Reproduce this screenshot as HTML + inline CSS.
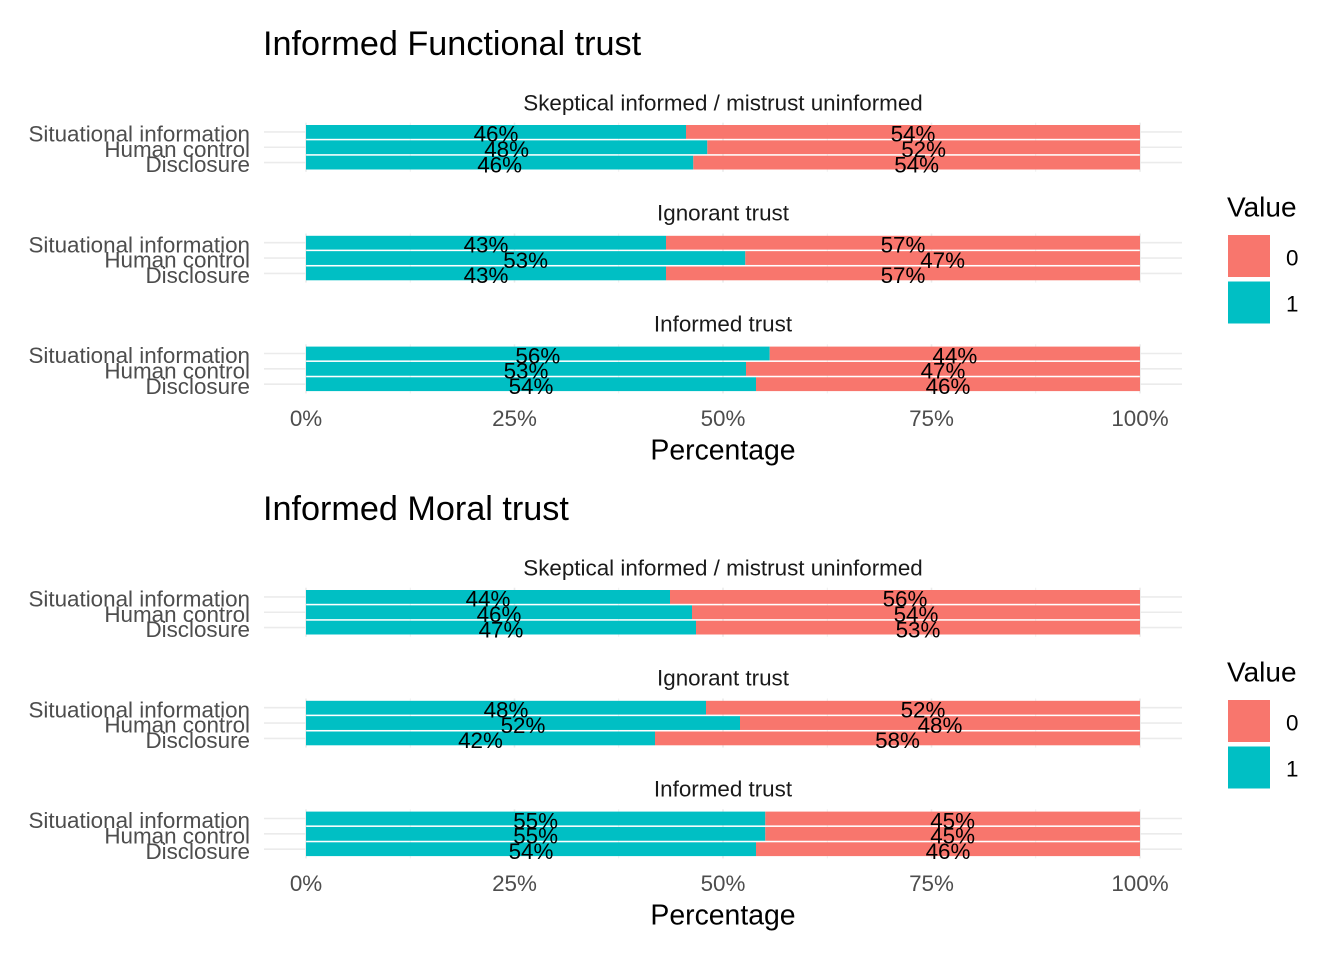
<!DOCTYPE html>
<html><head><meta charset="utf-8"><style>
html,body{margin:0;padding:0;background:#fff;}
svg{display:block;font-family:"Liberation Sans",Arial,sans-serif;}
.gmaj{stroke:#EBEBEB;stroke-width:1.6;}
.gmin{stroke:#EBEBEB;stroke-width:0.8;}
.t1{fill:#00BFC4;} .t0{fill:#F8766D;}
.ylab{font-size:22.4px;fill:#4D4D4D;text-anchor:end;}
.xlab{font-size:22.4px;fill:#4D4D4D;text-anchor:middle;}
.lab{font-size:22.4px;fill:#000;text-anchor:middle;}
.strip{font-size:22.4px;fill:#1A1A1A;text-anchor:middle;}
.title{font-size:34.2px;fill:#000;}
.atitle{font-size:28.4px;fill:#000;text-anchor:middle;}
.ltitle{font-size:28px;fill:#000;}
.ltext{font-size:22.4px;fill:#000;}
</style></head><body>
<svg width="1344" height="960" viewBox="0 0 1344 960" xmlns="http://www.w3.org/2000/svg">
<defs>
<g id="panelgrid">
  <line class="gmin" x1="410.25" y1="0" x2="410.25" y2="49.1"/>
  <line class="gmin" x1="618.75" y1="0" x2="618.75" y2="49.1"/>
  <line class="gmin" x1="827.25" y1="0" x2="827.25" y2="49.1"/>
  <line class="gmin" x1="1035.75" y1="0" x2="1035.75" y2="49.1"/>
  <line class="gmaj" x1="306" y1="0" x2="306" y2="49.1"/>
  <line class="gmaj" x1="514.5" y1="0" x2="514.5" y2="49.1"/>
  <line class="gmaj" x1="723" y1="0" x2="723" y2="49.1"/>
  <line class="gmaj" x1="931.5" y1="0" x2="931.5" y2="49.1"/>
  <line class="gmaj" x1="1140" y1="0" x2="1140" y2="49.1"/>
  <line class="gmaj" x1="264" y1="9.2" x2="1182" y2="9.2"/>
  <line class="gmaj" x1="264" y1="24.55" x2="1182" y2="24.55"/>
  <line class="gmaj" x1="264" y1="39.9" x2="1182" y2="39.9"/>
  <text class="ylab" x="250" y="18.8">Situational information</text>
  <text class="ylab" x="250" y="34.15">Human control</text>
  <text class="ylab" x="250" y="49.5">Disclosure</text>
</g>
<g id="legend">
  <text class="ltitle" x="1227" y="216.7">Value</text>
  <rect class="t0" x="1228" y="235" width="42" height="42"/>
  <rect class="t1" x="1228" y="281.5" width="42" height="42"/>
  <text class="ltext" x="1286" y="265.5">0</text>
  <text class="ltext" x="1286" y="311.5">1</text>
</g>
<g id="axis">
  <text class="xlab" x="306" y="426">0%</text>
  <text class="xlab" x="514.5" y="426">25%</text>
  <text class="xlab" x="723" y="426">50%</text>
  <text class="xlab" x="931.5" y="426">75%</text>
  <text class="xlab" x="1140" y="426">100%</text>
  <text class="atitle" x="723" y="459.3">Percentage</text>
</g>
</defs>

<!-- ================= TOP CHART ================= -->
<text class="title" x="263" y="55">Informed Functional trust</text>

<text class="strip" x="723" y="110.3">Skeptical informed / mistrust uninformed</text>
<text class="strip" x="723" y="220.5">Ignorant trust</text>
<text class="strip" x="723" y="331.3">Informed trust</text>

<use href="#panelgrid" transform="translate(0,122.7)"/>
<use href="#panelgrid" transform="translate(0,233.5)"/>
<use href="#panelgrid" transform="translate(0,344.3)"/>

<!-- P1 -->
<rect class="t1" x="306" y="125" width="380" height="13.8"/><rect class="t0" x="686" y="125" width="454" height="13.8"/>
<rect class="t1" x="306" y="140.35" width="401.3" height="13.8"/><rect class="t0" x="707.3" y="140.35" width="432.7" height="13.8"/>
<rect class="t1" x="306" y="155.7" width="387.3" height="13.8"/><rect class="t0" x="693.3" y="155.7" width="446.7" height="13.8"/>
<text class="lab" x="496" y="141.7">46%</text><text class="lab" x="913" y="141.7">54%</text>
<text class="lab" x="506.65" y="157.05">48%</text><text class="lab" x="923.65" y="157.05">52%</text>
<text class="lab" x="499.65" y="172.4">46%</text><text class="lab" x="916.65" y="172.4">54%</text>
<!-- P2 -->
<rect class="t1" x="306" y="235.8" width="360" height="13.8"/><rect class="t0" x="666" y="235.8" width="474" height="13.8"/>
<rect class="t1" x="306" y="251.15" width="439.3" height="13.8"/><rect class="t0" x="745.3" y="251.15" width="394.7" height="13.8"/>
<rect class="t1" x="306" y="266.5" width="360" height="13.8"/><rect class="t0" x="666" y="266.5" width="474" height="13.8"/>
<text class="lab" x="486" y="252.5">43%</text><text class="lab" x="903" y="252.5">57%</text>
<text class="lab" x="525.65" y="267.85">53%</text><text class="lab" x="942.65" y="267.85">47%</text>
<text class="lab" x="486" y="283.2">43%</text><text class="lab" x="903" y="283.2">57%</text>
<!-- P3 -->
<rect class="t1" x="306" y="346.6" width="463.7" height="13.8"/><rect class="t0" x="769.7" y="346.6" width="370.3" height="13.8"/>
<rect class="t1" x="306" y="361.95" width="440" height="13.8"/><rect class="t0" x="746" y="361.95" width="394" height="13.8"/>
<rect class="t1" x="306" y="377.3" width="450" height="13.8"/><rect class="t0" x="756" y="377.3" width="384" height="13.8"/>
<text class="lab" x="537.85" y="363.3">56%</text><text class="lab" x="954.85" y="363.3">44%</text>
<text class="lab" x="526" y="378.65">53%</text><text class="lab" x="943" y="378.65">47%</text>
<text class="lab" x="531" y="394">54%</text><text class="lab" x="948" y="394">46%</text>

<use href="#axis"/>
<use href="#legend"/>

<!-- ================= BOTTOM CHART ================= -->
<g transform="translate(0,465)">
<text class="title" x="263" y="55">Informed Moral trust</text>

<text class="strip" x="723" y="110.3">Skeptical informed / mistrust uninformed</text>
<text class="strip" x="723" y="220.5">Ignorant trust</text>
<text class="strip" x="723" y="331.3">Informed trust</text>

<use href="#panelgrid" transform="translate(0,122.7)"/>
<use href="#panelgrid" transform="translate(0,233.5)"/>
<use href="#panelgrid" transform="translate(0,344.3)"/>

<!-- P1 -->
<rect class="t1" x="306" y="125" width="364" height="13.8"/><rect class="t0" x="670" y="125" width="470" height="13.8"/>
<rect class="t1" x="306" y="140.35" width="386" height="13.8"/><rect class="t0" x="692" y="140.35" width="448" height="13.8"/>
<rect class="t1" x="306" y="155.7" width="390" height="13.8"/><rect class="t0" x="696" y="155.7" width="444" height="13.8"/>
<text class="lab" x="488" y="141.7">44%</text><text class="lab" x="905" y="141.7">56%</text>
<text class="lab" x="499" y="157.05">46%</text><text class="lab" x="916" y="157.05">54%</text>
<text class="lab" x="501" y="172.4">47%</text><text class="lab" x="918" y="172.4">53%</text>
<!-- P2 -->
<rect class="t1" x="306" y="235.8" width="400" height="13.8"/><rect class="t0" x="706" y="235.8" width="434" height="13.8"/>
<rect class="t1" x="306" y="251.15" width="434" height="13.8"/><rect class="t0" x="740" y="251.15" width="400" height="13.8"/>
<rect class="t1" x="306" y="266.5" width="349" height="13.8"/><rect class="t0" x="655" y="266.5" width="485" height="13.8"/>
<text class="lab" x="506" y="252.5">48%</text><text class="lab" x="923" y="252.5">52%</text>
<text class="lab" x="523" y="267.85">52%</text><text class="lab" x="940" y="267.85">48%</text>
<text class="lab" x="480.5" y="283.2">42%</text><text class="lab" x="897.5" y="283.2">58%</text>
<!-- P3 -->
<rect class="t1" x="306" y="346.6" width="459.3" height="13.8"/><rect class="t0" x="765.3" y="346.6" width="374.7" height="13.8"/>
<rect class="t1" x="306" y="361.95" width="459.3" height="13.8"/><rect class="t0" x="765.3" y="361.95" width="374.7" height="13.8"/>
<rect class="t1" x="306" y="377.3" width="450" height="13.8"/><rect class="t0" x="756" y="377.3" width="384" height="13.8"/>
<text class="lab" x="535.65" y="363.3">55%</text><text class="lab" x="952.65" y="363.3">45%</text>
<text class="lab" x="535.65" y="378.65">55%</text><text class="lab" x="952.65" y="378.65">45%</text>
<text class="lab" x="531" y="394">54%</text><text class="lab" x="948" y="394">46%</text>

<use href="#axis"/>
<use href="#legend"/>
</g>
</svg>
</body></html>
